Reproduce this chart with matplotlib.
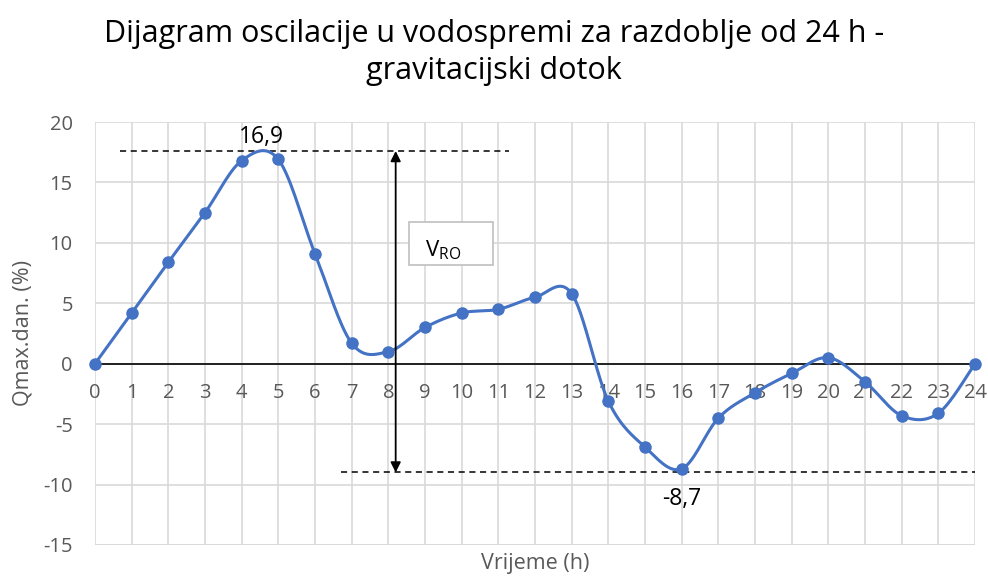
import numpy as np
import matplotlib
matplotlib.use('Agg')
import matplotlib.pyplot as plt
from matplotlib.patches import Rectangle

plt.rcParams['font.family'] = ['Open Sans', 'DejaVu Sans']
plt.rcParams['axes.unicode_minus'] = False

# hours and oscillation values (% of Qmax.dan.)
sati = list(range(25))
oscilacija = [0.0, 4.2, 8.4, 12.5, 16.8, 16.9, 9.1, 1.7, 1.0, 3.0, 4.2, 4.5, 5.5,
              5.8, -3.1, -6.9, -8.7, -4.5, -2.4, -0.8, 0.5, -1.5, -4.3, -4.1, 0.0]
y_ticks = [-15, -10, -5, 0, 5, 10, 15, 20]

naslov = 'Dijagram oscilacije u vodospremi za razdoblje od 24 h -\ngravitacijski dotok'
max_oznaka = '16,9'
min_oznaka = '-8,7'

BLUE = '#4472C4'
GRID = '#d9d9d9'
TXT = '#595959'


def smooth(x, y, n=30):
    # excel-like smoothed line (cardinal bezier through points)
    x = np.asarray(x, float)
    y = np.asarray(y, float)
    px = np.concatenate([[x[0]], x, [x[-1]]])
    py = np.concatenate([[y[0]], y, [y[-1]]])
    xs, ys = [], []
    t = np.linspace(0, 1, n)
    for i in range(1, len(px) - 2):
        p0 = np.array([px[i], py[i]])
        p3 = np.array([px[i + 1], py[i + 1]])
        c1 = p0 + (np.array([px[i + 1], py[i + 1]]) - np.array([px[i - 1], py[i - 1]])) / 6
        c2 = p3 - (np.array([px[i + 2], py[i + 2]]) - np.array([px[i], py[i]])) / 6
        b = ((1 - t) ** 3)[:, None] * p0 + (3 * (1 - t) ** 2 * t)[:, None] * c1 \
            + (3 * (1 - t) * t ** 2)[:, None] * c2 + (t ** 3)[:, None] * p3
        xs.extend(b[:, 0])
        ys.extend(b[:, 1])
    return np.array(xs), np.array(ys)


fig = plt.figure(figsize=(9.88, 5.79), dpi=100)
ax = fig.add_axes([95 / 988, 1 - 545 / 579, 880 / 988, 423 / 579])

ax.set_xlim(0, 24)
ax.set_ylim(-15, 20)
ax.set_yticks(y_ticks)
ax.set_xticks(sati)
ax.grid(True, color=GRID, linewidth=1.2)
ax.set_axisbelow(True)

for s in ['top', 'left', 'right']:
    ax.spines[s].set_visible(False)
ax.spines['bottom'].set_position(('data', 0))
ax.spines['bottom'].set_color('black')
ax.spines['bottom'].set_linewidth(1.2)
ax.spines['bottom'].set_zorder(1)
ax.axhline(-15, color=GRID, linewidth=1.2, zorder=0)

ax.tick_params(axis='both', length=0, labelsize=14.5, labelcolor=TXT)
ax.tick_params(axis='x', pad=14)
ax.tick_params(axis='y', pad=16)

sx, sy = smooth(sati, oscilacija)
ax.plot(sx, sy, color=BLUE, linewidth=2.2, zorder=3, clip_on=False)
ax.plot(sati, oscilacija, 'o', color=BLUE, markersize=8, zorder=4, clip_on=False)

# annotations
ax.plot([0.68, 11.3], [17.6, 17.6], color='black', linestyle=(0, (4, 3)), linewidth=1.1)
ax.plot([6.7, 24], [-9.0, -9.0], color='black', linestyle=(0, (4, 3)), linewidth=1.1)
ax.annotate('', xy=(8.2, 17.6), xytext=(8.2, -9.0),
            arrowprops=dict(arrowstyle='<|-|>', color='black', lw=1.3,
                            mutation_scale=15, shrinkA=0, shrinkB=0))
ax.add_patch(Rectangle((8.55, 8.2), 2.3, 3.55, facecolor='white',
                       edgecolor='#bfbfbf', linewidth=1.2, zorder=5))
ax.text(9.5, 9.4, r'V$_{\mathregular{RO}}$', fontsize=16, ha='center', va='center', zorder=6)
ax.text(4.55, 18.8, max_oznaka, fontsize=16.5, ha='center', va='center')
ax.text(16.0, -11.2, min_oznaka, fontsize=16.5, ha='center', va='center')

fig.text(535 / 988, 1 - 564 / 579, 'Vrijeme (h)', fontsize=15.5, color=TXT,
         ha='center', va='center')
fig.text(23 / 988, 1 - 333 / 579, 'Qmax.dan. (%)', fontsize=15.5, color=TXT,
         ha='center', va='center', rotation=90)

fig.text(0.5, 0.91, naslov, fontsize=22, ha='center', va='center', linespacing=1.3)

fig.savefig('out.png', dpi=100)
